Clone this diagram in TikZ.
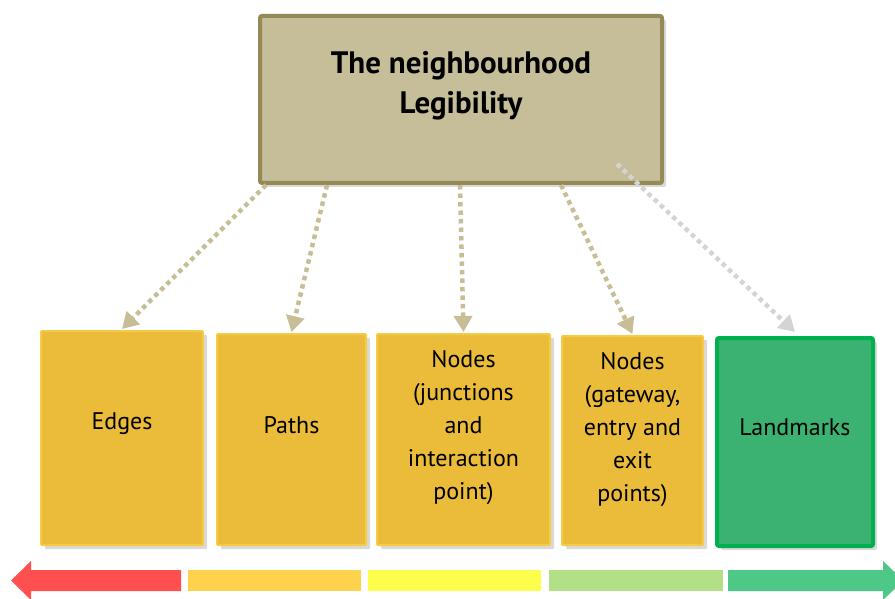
\documentclass[tikz,border=0pt]{standalone}
\usepackage{fontspec}
\setmainfont{PT Sans}
\usetikzlibrary{arrows.meta,shadows}
\definecolor{topfill}{HTML}{C6BE98}
\definecolor{topdraw}{HTML}{958A55}
\definecolor{arrowc}{HTML}{C8BE96}
\definecolor{grayarrow}{HTML}{D4D4D4}
\definecolor{ylwtop}{HTML}{F9D04A}
\definecolor{ylwbot}{HTML}{EBBC3A}
\definecolor{lmfill}{HTML}{3BB272}
\definecolor{lmdraw}{HTML}{00B050}
\definecolor{barred}{HTML}{FF4F4F}
\definecolor{barorange}{HTML}{FFD24D}
\definecolor{baryellow}{HTML}{FDFD4B}
\definecolor{barlgreen}{HTML}{B3E087}
\definecolor{bargreen}{HTML}{4DC886}
\tikzset{
  boxshadow/.style={drop shadow={opacity=0.3,shadow xshift=4pt,shadow yshift=-4pt}},
  topbox/.style={draw=topdraw,fill=topfill,line width=4pt,rounded corners=2pt,boxshadow,inner sep=0pt},
  ybox/.style={fill=ylwbot,draw=ylwtop!70!ylwbot,line width=2pt,rounded corners=1pt,boxshadow,inner sep=0pt},
  lmbox/.style={draw=lmdraw,fill=lmfill,line width=4pt,rounded corners=2pt,boxshadow,inner sep=0pt},
  lbl/.style={align=center,font=\fontsize{24}{33}\selectfont,text=black,inner sep=0pt},
  ttl/.style={align=center,font=\fontsize{31}{40}\selectfont\bfseries,text=black,inner sep=0pt},
  dotarrow/.style={draw=arrowc,line width=4.5pt,dash pattern=on 4.5pt off 4pt,-{Triangle[width=18pt,length=16pt,fill=arrowc]}},
  grayarrowst/.style={dotarrow,draw=grayarrow,-{Triangle[width=18pt,length=16pt,fill=grayarrow]}}
}
\begin{document}
\begin{tikzpicture}[x=1pt,y=-1pt]
\useasboundingbox (0,0) rectangle (895,599);
% top box
\node[topbox,minimum width=402pt,minimum height=167pt] (top) at (461,99.5) {};
\node[ttl] (title) at ([yshift=14pt]top.center) {The neighbourhood\\Legibility};
% bottom boxes
\node[ybox,minimum width=162pt,minimum height=214pt] (edges) at (122,438) {};
\node[ybox,minimum width=149pt,minimum height=211pt] (paths) at (291.5,439.5) {};
\node[ybox,minimum width=173pt,minimum height=211pt] (junc) at (463.5,439.5) {};
\node[ybox,minimum width=141pt,minimum height=209pt] (gate) at (632.5,440.5) {};
\node[lmbox,minimum width=156pt,minimum height=208pt] (land) at (795,442) {};
\node[lbl] (tedges) at ([yshift=14pt]edges.center) {Edges};
\node[lbl] (tpaths) at ([yshift=14pt]paths.center) {Paths};
\node[lbl] (tjunc) at ([yshift=12pt]junc.center) {Nodes\\(junctions\\and\\interaction\\point)};
\node[lbl] (tgate) at ([yshift=11pt]gate.center) {Nodes\\(gateway,\\entry and\\exit\\points)};
\node[lbl] (tland) at ([yshift=15pt]land.center) {Landmarks};
% arrows
\draw[dotarrow] ([xshift=8pt]top.south west) -- ([yshift=1pt]edges.north);
\draw[dotarrow] ([xshift=69pt]top.south west) -- ([yshift=1pt]paths.north);
\draw[dotarrow] ([xshift=-1pt]top.south) -- ([yshift=1pt]junc.north);
\draw[dotarrow] ([xshift=303pt]top.south west) -- ([yshift=1pt]gate.north);
\draw[grayarrowst] ([xshift=-47pt,yshift=21pt]top.south east) -- ([yshift=4pt]land.north);
% bottom bar
\fill[barred] (181,570) -- (31,570) -- (31,561) -- (11,580.5) -- (31,600) -- (31,591) -- (181,591) -- cycle;
\fill[barorange] (188,570) rectangle (361,591);
\fill[baryellow] (368,570) rectangle (541,591);
\fill[barlgreen] (549,570) rectangle (723,591);
\fill[bargreen] (728,570) -- (883,570) -- (883,561) -- (895,572.4) -- (895,588.6) -- (883,600) -- (883,591) -- (728,591) -- cycle;
\end{tikzpicture}
\end{document}
